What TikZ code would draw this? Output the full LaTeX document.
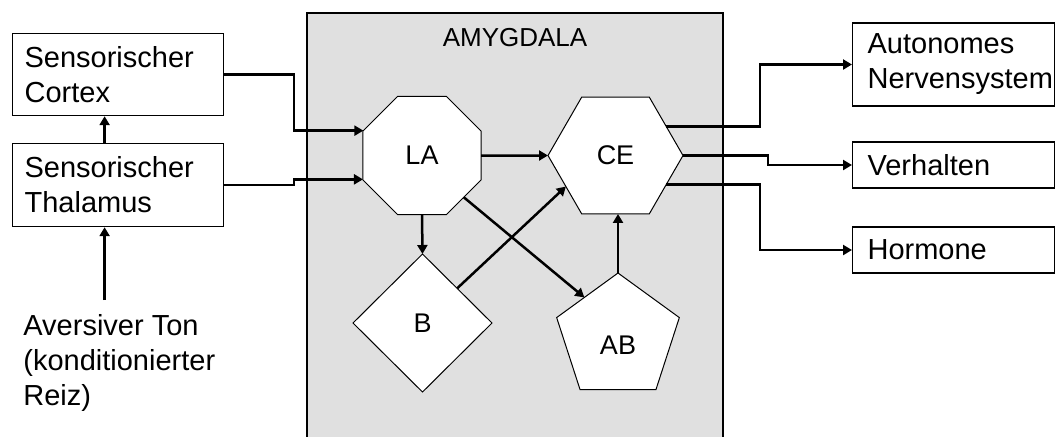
\documentclass[tikz,border=0pt]{standalone}
\usepackage{fontspec}
\setmainfont{Liberation Sans}
\usetikzlibrary{shapes.geometric,arrows.meta}
\definecolor{amygray}{HTML}{E0E0E0}

\begin{document}
\begin{tikzpicture}[x=0.5pt,y=-0.5pt,
  box/.style={draw, line width=0.6pt, align=left, inner xsep=6pt, inner ysep=0pt,
    font=\fontsize{14.5}{17.5}\selectfont},
  nucleus/.style={draw, fill=white, line width=0.5pt, inner sep=0pt, outer sep=0pt,
    font=\fontsize{13.5}{16}\selectfont},
  arr/.style={line width=1.25pt, -{Triangle[length=4.5pt,width=5pt]}}]
  \useasboundingbox (0,0) rectangle (1055,436);
  % Amygdala
  \draw[fill=amygray, line width=1pt] (307,13) rectangle (723,450);
  \node[font=\fontsize{13}{15}\selectfont] (amytitle) at (515,38) {AMYGDALA};
  % Inputs
  \node[box, anchor=north west, text width=93.5pt, minimum height=41pt] (cortex) at (12,33) {Sensorischer\\Cortex};
  \node[box, anchor=north west, text width=93.5pt, minimum height=41.5pt] (thal) at (12,143) {Sensorischer\\Thalamus};
  \node[anchor=north west, inner sep=0pt, align=left, font=\fontsize{14.5}{17.5}\selectfont] (ton) at (23,314)
    {Aversiver Ton\\(konditionierter\\Reiz)};
  % Nuclei
  \node[nucleus, regular polygon, regular polygon sides=8, minimum size=63.9pt] (LA) at (422,155.5) {LA};
  \node[nucleus, regular polygon, regular polygon sides=6, minimum size=67.5pt] (CE) at (615.5,155.5) {CE};
  \node[nucleus, diamond, aspect=1, minimum width=69.5pt, minimum height=69pt] (B) at (422.5,323) {B};
  \node[nucleus, regular polygon, regular polygon sides=5, minimum size=64.5pt] (AB) at (618,337.5)
    {\raisebox{-3.75pt}[\height][\depth]{AB}};
  % Outputs
  \node[box, anchor=west, inner xsep=7.5pt, text width=86pt, minimum height=41.5pt] (auto) at (852,64.5) {Autonomes\\Nervensystem};
  \node[box, anchor=west, inner xsep=7.5pt, text width=86pt, minimum height=23pt] (verh) at (852,165) {Verhalten};
  \node[box, anchor=west, inner xsep=7.5pt, text width=86pt, minimum height=23pt] (horm) at (852,250) {Hormone};
  % Connections
  \draw[arr] ([xshift=-6.75pt,yshift=7pt]thal.south |- ton.north) -- ([xshift=-6.75pt]thal.south);
  \draw[arr] ([xshift=-6.75pt]thal.north) -- ([xshift=-6.75pt]cortex.south);
  \draw[arr] (cortex.east) -- ++(70,0) |- (LA.157.5);
  \draw[arr] (thal.east) -- ++(70,0) |- (LA.202.5);
  \draw[arr] (LA.east) -- (CE.west);
  \draw[arr] (LA.south) -- (B.north);
  \draw[arr] (LA.-45) -- (AB.130);
  \draw[arr] (B.45) -- (CE.212);
  \draw[arr] (AB.north) -- (AB.north |- CE.south);
  \draw[arr] (CE.30) -- ++(94,0) |- (auto.west);
  \draw[arr] (CE.east) -- ++(85,0) |- (verh.west);
  \draw[arr] (CE.-30) -- ++(94,0) |- (horm.west);
\end{tikzpicture}
\end{document}
